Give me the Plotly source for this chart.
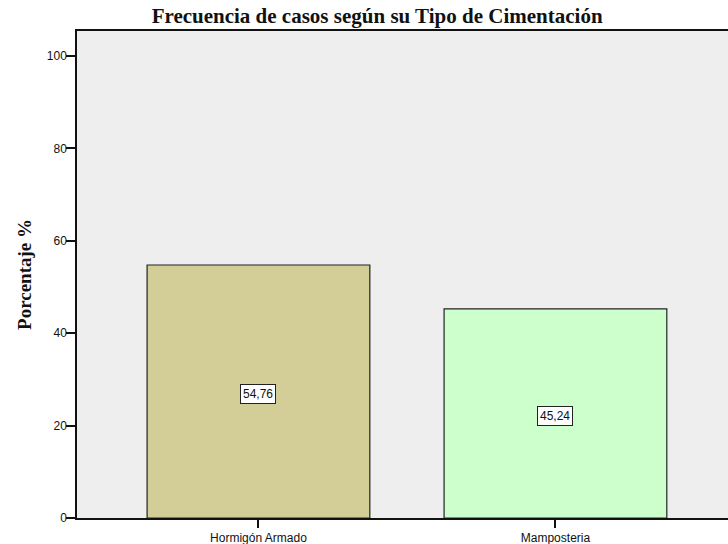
import plotly.graph_objects as go

# Frequency of cases by foundation type
categorias = ["Hormigón Armado", "Mamposteria"]
porcentajes = [54.76, 45.24]
colores = ["#D3CE98", "#CCFFCC"]
y_ticks = [0, 20, 40, 60, 80, 100]

fig = go.Figure()
fig.add_trace(go.Bar(
    x=categorias,
    y=porcentajes,
    width=0.75,
    marker=dict(color=colores, line=dict(color="#222222", width=1.2)),
    hoverinfo="skip",
    showlegend=False,
))

# value boxes at mid-height of each bar
for cat, val in zip(categorias, porcentajes):
    fig.add_annotation(
        x=cat, y=val / 2 - 0.6, text=f"{val:.2f}".replace(".", ","),
        showarrow=False, bgcolor="white", bordercolor="#222222", borderwidth=1,
        borderpad=2, font=dict(family="Liberation Sans, Arial", size=12, color="#111111"),
    )

fig.update_layout(
    width=728, height=544,
    margin=dict(l=77, r=0, t=31, b=26),
    paper_bgcolor="white",
    plot_bgcolor="#EEEEEE",
    bargap=0.25,
    title=dict(
        text="<b>Frecuencia de casos según su Tipo de Cimentación</b>",
        x=0.518, xanchor="center", y=0.972, yanchor="middle",
        font=dict(family="Liberation Serif, Times New Roman, serif", size=21, color="#111111"),
    ),
    xaxis=dict(
        range=[-0.611, 1.581],
        showgrid=False, zeroline=False,
        showline=True, linecolor="#111111", linewidth=1.5, mirror=True,
        ticks="outside", ticklen=8, tickcolor="#111111", tickwidth=1.5,
        tickfont=dict(family="Liberation Sans, Arial", size=12, color="#111111"),
        fixedrange=True,
    ),
    yaxis=dict(
        range=[0, 105.4],
        tickvals=y_ticks,
        showgrid=False, zeroline=False,
        showline=True, linecolor="#111111", linewidth=1.5,
        ticks="outside", ticklen=9, tickcolor="#111111", tickwidth=1.5,
        ticklabelstandoff=-3,
        tickfont=dict(family="Liberation Sans, Arial", size=12, color="#111111"),
        title=dict(
            text="<b>Porcentaje %</b>",
            font=dict(family="Liberation Serif, Times New Roman, serif", size=19, color="#111111"),
            standoff=10,
        ),
        fixedrange=True,
    ),
)

fig.write_html("out.html")
